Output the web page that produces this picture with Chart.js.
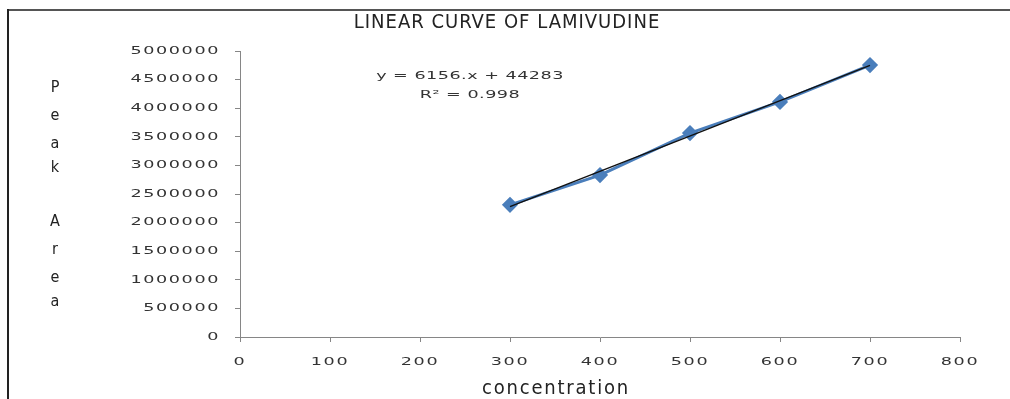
<!DOCTYPE html>
<html>
<head>
<meta charset="utf-8">
<script src="https://cdn.jsdelivr.net/npm/chart.js@4"></script>
<style>
  html, body { margin: 0; padding: 0; background: #fff; overflow: hidden; }
</style>
</head>
<body>
<canvas id="myChart" width="1010" height="399"></canvas>
<script>
const concentration = [300, 400, 500, 600, 700];
const peakArea = [2310000, 2830000, 3565000, 4110000, 4755000];
const xTicks = [0, 100, 200, 300, 400, 500, 600, 700, 800];
const yTicks = [0, 500000, 1000000, 1500000, 2000000, 2500000, 3000000, 3500000, 4000000, 4500000, 5000000];
const chartTitle = "LINEAR CURVE OF LAMIVUDINE";
const xTitle = "concentration";
const yTitle = ["P", "e", "a", "k", "", "A", "r", "e", "a"];
const equation = ["y = 6156.x + 44283", "R\u00b2 = 0.998"];

// least squares trend through the measured points
const n = concentration.length;
const mx = concentration.reduce((a, b) => a + b, 0) / n;
const my = peakArea.reduce((a, b) => a + b, 0) / n;
let sxy = 0, sxx = 0;
for (let i = 0; i < n; i++) {
    sxy += (concentration[i] - mx) * (peakArea[i] - my);
    sxx += (concentration[i] - mx) ** 2;
}
const slope = sxy / sxx;
const icept = my - slope * mx;
const trendX = [concentration[0], concentration[n - 1]];

const axisColor = "#868686";
const tickFont = { family: "DejaVu Sans", size: 11 };

// the old chart has its text stretched sideways; mimic that
let stretch = 1;
function wrapFillText(ctx) {
    if (ctx._origFill) return;
    ctx._origFill = ctx.fillText;
    ctx.fillText = function (t, x, y, w) {
        if (stretch === 1) return ctx._origFill.call(ctx, t, x, y, w);
        ctx.save();
        ctx.translate(x, y);
        ctx.scale(stretch, 1);
        ctx._origFill.call(ctx, t, 0, 0);
        ctx.restore();
    };
}

const textPlugin = {
    id: "texts",
    beforeDraw(chart) {
        const ctx = chart.ctx;
        wrapFillText(ctx);
        // frame of the pasted picture
        ctx.save();
        ctx.strokeStyle = "#555";
        ctx.lineWidth = 2;
        ctx.beginPath();
        ctx.moveTo(1010, 10);
        ctx.lineTo(8, 10);
        ctx.stroke();
        ctx.strokeStyle = "#222";
        ctx.beginPath();
        ctx.moveTo(8, 9);
        ctx.lineTo(8, 399);
        ctx.stroke();
        ctx.restore();
        ctx.letterSpacing = "1px";
        stretch = 1.6;
    },
    beforeDatasetsDraw(chart) {
        stretch = 1;
    },
    afterDraw(chart) {
        const ctx = chart.ctx;
        ctx.save();
        ctx.fillStyle = "#222";
        ctx.textAlign = "center";
        ctx.textBaseline = "middle";

        stretch = 1;
        ctx.letterSpacing = "1px";
        ctx.font = "20px 'DejaVu Sans Condensed'";
        ctx.fillText(chartTitle, 507, 23);

        ctx.letterSpacing = "1.8px";
        ctx.font = "20px 'DejaVu Sans Condensed'";
        ctx.fillText(xTitle, 556, 389);

        ctx.letterSpacing = "0px";
        ctx.font = "16px 'DejaVu Sans Condensed'";
        const ys = [88, 116, 144, 168, 196, 222, 250, 278, 302];
        yTitle.forEach((c, i) => { if (c) ctx.fillText(c, 55, ys[i]); });

        ctx.fillStyle = "#333";
        ctx.letterSpacing = "0.3px";
        ctx.font = "11px 'DejaVu Sans'";
        stretch = 1.6;
        ctx.fillText(equation[0], 470, 76);
        ctx.fillText(equation[1], 470, 95);
        stretch = 1;
        ctx.restore();
    }
};

new Chart("myChart", {
    type: "scatter",
    data: {
        datasets: [{
            label: "Linear (Peak Area)",
            data: trendX.map(x => ({ x: x, y: icept + slope * x })),
            showLine: true,
            borderColor: "#111",
            borderWidth: 1.5,
            pointRadius: 0
        }, {
            label: "Peak Area",
            data: concentration.map((x, i) => ({ x: x, y: peakArea[i] })),
            showLine: true,
            borderColor: "#4A7EBB",
            borderWidth: 3,
            backgroundColor: "#4A7EBB",
            pointStyle: "rectRot",
            pointRadius: 6,
            pointBorderColor: "#4A7EBB",
            pointBackgroundColor: "#4A7EBB"
        }]
    },
    options: {
        responsive: false,
        animation: false,
        layout: { padding: { top: 51, right: 50, left: 0, bottom: 0 } },
        plugins: {
            legend: { display: false },
            tooltip: { enabled: false }
        },
        scales: {
            x: {
                type: "linear",
                min: xTicks[0],
                max: xTicks[xTicks.length - 1],
                afterFit(scale) { scale.height = 62; },
                afterBuildTicks(scale) { scale.ticks = xTicks.map(v => ({ value: v })); },
                border: { color: axisColor, width: 1 },
                grid: { drawOnChartArea: false, tickLength: 5, color: axisColor },
                ticks: { color: "#333", font: tickFont, padding: 14, maxRotation: 0,
                         callback: v => String(v) }
            },
            y: {
                type: "linear",
                min: yTicks[0],
                max: yTicks[yTicks.length - 1],
                afterFit(scale) { scale.width = 240; },
                afterBuildTicks(scale) { scale.ticks = yTicks.map(v => ({ value: v })); },
                border: { color: axisColor, width: 1 },
                grid: { drawOnChartArea: false, tickLength: 5, color: axisColor },
                ticks: { color: "#333", font: tickFont, padding: 15,
                         callback: v => String(v) }
            }
        }
    },
    plugins: [textPlugin]
});
</script>
</body>
</html>
